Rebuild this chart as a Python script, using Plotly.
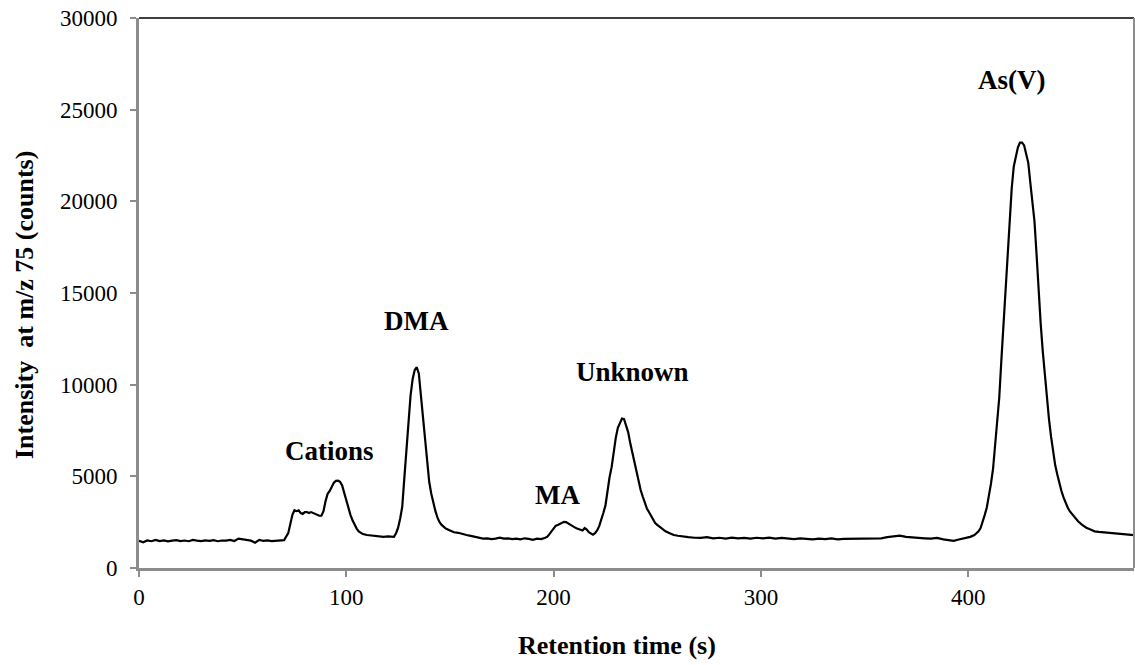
import plotly.graph_objects as go

# Retention time (s) and intensity (counts)
time_s = [
    0, 2, 4, 6, 8, 10, 12, 14, 16, 18, 20, 22, 24, 26, 28, 30, 32, 34, 36, 38,
    40, 42, 44, 46, 48, 50, 52, 54, 56, 58, 60, 62, 64, 66, 68, 70,
    72, 73, 74, 75, 76, 77, 78, 79, 80, 81, 82, 83, 84, 85, 86, 87, 88, 89,
    90, 91, 92, 93, 94, 95, 96, 97, 98, 99, 100, 101, 102, 103, 104, 105,
    106, 107, 108, 110, 112, 114, 116, 118, 120, 122, 123,
    124, 125, 126, 127, 128, 129, 130, 131, 132, 133, 134, 135, 136, 137,
    138, 139, 140, 141, 142, 143, 144, 145, 146, 147, 148, 150, 152, 154,
    156, 158, 160, 162, 164, 166, 168, 170, 172, 174, 176, 178, 180, 182,
    184, 186, 188, 190, 192, 194, 196,
    197, 198, 199, 200, 201, 202, 203, 204, 205, 206, 207, 208, 209, 210,
    211, 212, 213, 214, 215, 216, 217, 218, 219, 220, 221, 222, 223, 224,
    225, 226, 227, 228, 229, 230, 231, 232, 233, 234, 235, 236, 237, 238,
    239, 240, 241, 242, 243, 244, 245, 246, 247, 248, 249, 250, 252, 254,
    256, 258, 260, 262, 265, 268, 271, 274, 277, 280, 283, 286, 289, 292,
    295, 298, 301, 304, 307, 310, 313, 316, 319, 322, 325, 328, 331, 334,
    337, 340, 343, 346, 349, 352, 355, 358, 361, 364, 367, 370, 373, 376,
    379, 382, 385, 388, 391, 393, 395, 397, 399, 401, 403, 405, 406,
    407, 408, 409, 410, 411, 412, 413, 414, 415, 416, 417, 418, 419, 420,
    421, 422, 423, 424, 425, 426, 427, 428, 429, 430, 431, 432, 433, 434,
    435, 436, 437, 438, 439, 440, 441, 442, 443, 444, 445, 446, 447, 448,
    449, 450, 451, 453, 455, 457, 459, 461, 463, 465, 467, 469, 471, 473,
    475, 477, 479, 480,
]
intensity = [
    1480, 1400, 1500, 1460, 1530, 1470, 1510, 1450, 1490, 1520, 1470, 1500,
    1460, 1530, 1490, 1470, 1510, 1480, 1520, 1460, 1500, 1490, 1530, 1470,
    1600, 1560, 1520, 1490, 1380, 1530, 1480, 1510, 1470, 1500, 1490, 1520,
    1900, 2400, 2900, 3150, 3100, 3150, 3000, 2950, 3050, 3050, 3000, 3050,
    3000, 2950, 2900, 2850, 2850, 3100,
    3650, 4050, 4200, 4450, 4650, 4750, 4760, 4700, 4500, 4100, 3650, 3250,
    2900, 2600, 2350, 2150,
    2000, 1900, 1850, 1800, 1770, 1750, 1740, 1700, 1720, 1680, 1700,
    1900, 2200, 2700, 3350, 4900, 6500, 8100, 9400, 10300, 10800, 10950,
    10600, 9400, 8200,
    6900, 5700, 4700, 4050, 3500, 3100, 2750, 2500, 2350, 2250, 2150, 2050,
    1950, 1920,
    1880, 1800, 1750, 1700, 1650, 1600, 1620, 1580, 1600, 1650, 1600, 1620,
    1580, 1600,
    1560, 1620, 1590, 1540, 1600, 1580, 1650,
    1710, 1850, 2000, 2200, 2300, 2350, 2420, 2480, 2520, 2500, 2420, 2350,
    2280, 2230,
    2170, 2120, 2080, 2050, 2180, 2100, 1950, 1860, 1820, 1900, 2050, 2280,
    2600, 3000,
    3400, 4200, 4950, 5500, 6400, 7100, 7650, 7950, 8150, 8120, 7800, 7400,
    6800, 6300,
    5800, 5200, 4700, 4250, 3900, 3550, 3250, 3050, 2850, 2650, 2450, 2350,
    2150, 2000,
    1900, 1800, 1760, 1720, 1680, 1650, 1640, 1680, 1620, 1650, 1600, 1660,
    1620, 1640,
    1600, 1650, 1620, 1660, 1600, 1640, 1620, 1580, 1620, 1600, 1560, 1600,
    1580, 1620,
    1560, 1590, 1600, 1570, 1600, 1620, 1640, 1620, 1680, 1700, 1760, 1700,
    1660, 1640,
    1620, 1600, 1640, 1560, 1520, 1480, 1540, 1580, 1640, 1700, 1800, 2000,
    2180,
    2500, 2900, 3300, 3900, 4600, 5400, 6600, 7700, 9300, 11300, 13300, 15200,
    17000, 18900,
    20700, 21900, 22500, 22950, 23200, 23200, 23050, 22600, 22100, 21000,
    20100, 18900, 17100, 15000,
    13300, 11800, 10400, 9200, 8100, 7150, 6300, 5600, 5100, 4600, 4200, 3850,
    3550, 3300,
    3100, 2950, 2800, 2550, 2350, 2200, 2100, 2000, 1970, 1950, 1920, 1900,
    1880, 1870,
    1850, 1820, 1800, 1790,
]

peak_labels = ["Cations", "DMA", "MA", "Unknown", "As(V)"]
label_x = [92, 134, 202, 238, 421]
label_y = [6400, 13500, 4000, 10700, 26600]

x_ticks = [0, 100, 200, 300, 400]
y_ticks = [0, 5000, 10000, 15000, 20000, 25000, 30000]

SERIF = "Liberation Serif, Times New Roman, serif"
AXIS_GRAY = "#8c8c8c"

fig = go.Figure()
fig.add_trace(go.Scatter(
    x=time_s, y=intensity, mode="lines",
    line=dict(color="black", width=2.2), showlegend=False, hoverinfo="skip",
))

for txt, lx, ly in zip(peak_labels, label_x, label_y):
    fig.add_annotation(
        x=lx, y=ly, text=f"<b>{txt}</b>", showarrow=False,
        font=dict(family=SERIF, size=27, color="black"),
        xanchor="center", yanchor="middle",
    )

# axis titles placed as in the reference
fig.add_annotation(
    xref="paper", yref="paper", x=(617 - 139) / 995, y=-(645 - 568) / 550,
    text="<b>Retention time (s)</b>", showarrow=False,
    font=dict(family=SERIF, size=26, color="black"),
    xanchor="center", yanchor="middle",
)
fig.add_annotation(
    xref="paper", yref="paper", x=-(139 - 25) / 995, y=(568 - 305) / 550,
    text="<b>Intensity&nbsp; at m/z 75 (counts)</b>", showarrow=False,
    textangle=-90,
    font=dict(family=SERIF, size=26, color="black"),
    xanchor="center", yanchor="middle",
)

# frame: top black line, right gray line
fig.add_shape(type="line", xref="paper", yref="paper", x0=0, x1=1, y0=1, y1=1,
              line=dict(color="black", width=1.5))
fig.add_shape(type="line", xref="paper", yref="paper", x0=1, x1=1, y0=0, y1=1,
              line=dict(color=AXIS_GRAY, width=2))

fig.update_layout(
    width=1135, height=665,
    margin=dict(l=139, r=1, t=18, b=97),
    paper_bgcolor="white", plot_bgcolor="white",
    font=dict(family=SERIF, color="black"),
    xaxis=dict(
        range=[0, 480], tickvals=x_ticks, ticktext=[str(v) for v in x_ticks],
        showgrid=False, zeroline=False,
        showline=True, linecolor=AXIS_GRAY, linewidth=3,
        ticks="outside", ticklen=6, tickcolor=AXIS_GRAY, tickwidth=1.5,
        tickfont=dict(family=SERIF, size=23, color="black"),
    ),
    yaxis=dict(
        range=[0, 30000], tickvals=y_ticks, ticktext=[str(v) for v in y_ticks],
        showgrid=False, zeroline=False,
        showline=True, linecolor=AXIS_GRAY, linewidth=3,
        ticks="outside", ticklen=6, tickcolor=AXIS_GRAY, tickwidth=1.5,
        ticklabelstandoff=8,
        tickfont=dict(family=SERIF, size=23, color="black"),
    ),
)

fig.write_html("out.html")
